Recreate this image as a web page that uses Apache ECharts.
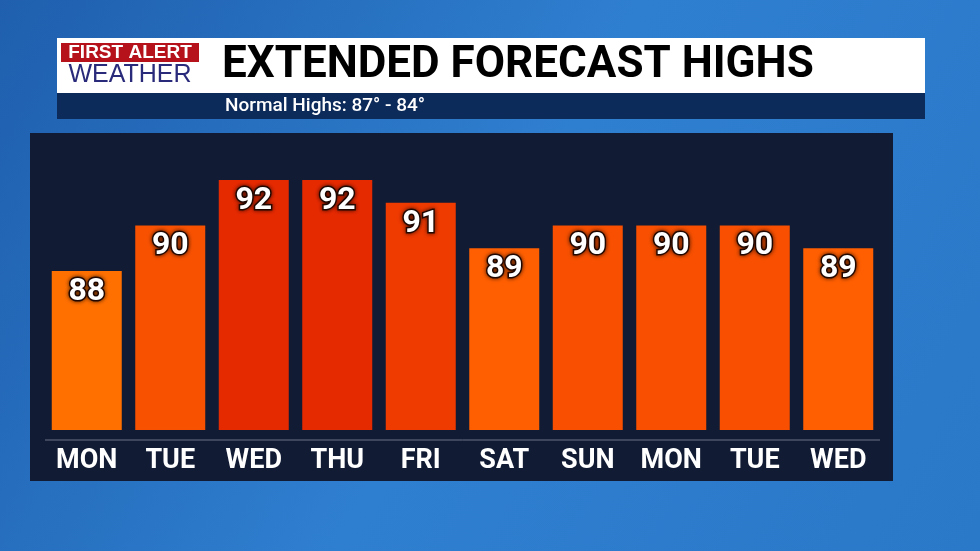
<!DOCTYPE html>
<html><head><meta charset="utf-8">
<script src="https://cdn.jsdelivr.net/npm/echarts@6/dist/echarts.min.js"></script>
<style>html,body{margin:0;padding:0;width:980px;height:551px;overflow:hidden}
#c{width:980px;height:551px}</style></head>
<body><div id="c"></div>
<script>
const days = ['MON','TUE','WED','THU','FRI','SAT','SUN','MON','TUE','WED'];
const highs = [88,90,92,92,91,89,90,90,90,89];
const barColors = ['#ff7000','#f85200','#e62a00','#e62a00','#ef3a00','#ff5f00','#f85000','#f85000','#f85000','#ff5f00'];
const titleText = 'EXTENDED FORECAST HIGHS';
const subtitleText = 'Normal Highs: 87° - 84°';

const chart = echarts.init(document.getElementById('c'));
chart.setOption({
  backgroundColor: {type:'linear',x:0,y:0,x2:1,y2:1,colorStops:[{offset:0,color:'#1f5fae'},{offset:0.5,color:'#2f7fd0'},{offset:1,color:'#2a78c8'}]},
  graphic: [
    {type:'rect',shape:{x:30,y:133,width:863,height:348},style:{fill:'#111b33'},z:0},
    {type:'rect',shape:{x:57,y:38,width:868,height:55},style:{fill:'#ffffff'},z:1},
    {type:'rect',shape:{x:57,y:93,width:868,height:26},style:{fill:'#0c2a5a'},z:1},
    {type:'rect',shape:{x:61,y:43,width:138,height:19},style:{fill:'#b5121b'},z:2},
    {type:'line',shape:{x1:45,y1:440,x2:880,y2:440},style:{stroke:'#6a7388',lineWidth:1},z:2},
    {type:'text',x:130,y:53,style:{text:'FIRST ALERT',fill:'#fff',font:'bold 19px "Liberation Sans"',textAlign:'center',textVerticalAlign:'middle'},z:3},
    {type:'text',x:130,y:75,style:{text:'WEATHER',fill:'#2a2a7a',font:'25px "Liberation Sans"',textAlign:'center',textVerticalAlign:'middle'},z:3},
    {type:'text',x:222,y:66,style:{text:titleText,fill:'#000',font:'bold 44px "Roboto"',textVerticalAlign:'middle'},z:3},
    {type:'text',x:225,y:106,style:{text:subtitleText,fill:'#fff',font:'500 19px "Roboto"',textVerticalAlign:'middle'},z:3}
  ],
  grid:{left:45,right:100,top:180,bottom:121},
  xAxis:{type:'category',data:days,
    axisLine:{show:false},axisTick:{show:false},
    axisLabel:{color:'#fff',fontSize:27,fontWeight:'bold',fontFamily:'Roboto',margin:18}},
  yAxis:{type:'value',min:81,max:92,show:false,splitLine:{show:false}},
  series:[{type:'bar',data:highs.map((v,i)=>({value:v,itemStyle:{color:barColors[i]}})),
    barWidth:70,z:5,
    label:{show:true,position:'insideTop',distance:5,color:'#fff',fontSize:32,fontWeight:'bold',fontFamily:'Roboto',
      textBorderColor:'#2a0a00',textBorderWidth:3,textShadowColor:'rgba(0,0,0,0.6)',textShadowBlur:4}}]
});
</script></body></html>
